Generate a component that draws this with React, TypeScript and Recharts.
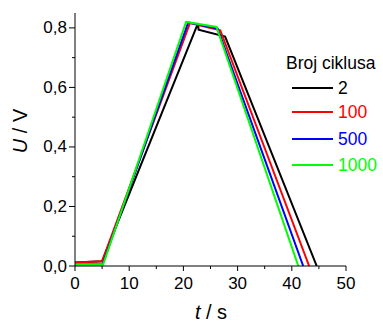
import React from "react";
import { LineChart, Line, XAxis, YAxis } from "recharts";

const t2 = [0, 5, 22.7, 22.8, 27.7, 44.6];
const u2 = [0.012, 0.016, 0.816, 0.794, 0.771, 0];
const t100 = [0, 5, 21.2, 26.8, 43.2];
const u100 = [0.012, 0.016, 0.816, 0.792, 0];
const t500 = [0, 5.1, 20.9, 26.3, 42.1];
const u500 = [0.006, 0.006, 0.818, 0.798, 0];
const t1000 = [0, 5.2, 20.5, 26.1, 41.2];
const u1000 = [0.006, 0.006, 0.82, 0.803, 0];

const xTicks = [0, 5, 10, 15, 20, 25, 30, 35, 40, 45, 50];
const yTicks = [0, 0.1, 0.2, 0.3, 0.4, 0.5, 0.6, 0.7, 0.8];

const seriesNames = ["2", "100", "500", "1000"];
const seriesColors = ["#000000", "#ff0000", "#0000ff", "#00ff00"];
const legendTitle = "Broj ciklusa";

const zip = (t: number[], u: number[]) => t.map((x, i) => ({ x, y: u[i] }));
const series = [zip(t2, u2), zip(t100, u100), zip(t500, u500), zip(t1000, u1000)];

const FONT = "'Liberation Sans', Arial, sans-serif";

const XTick = (props: any) => {
  const { x, y, payload } = props;
  const v = payload.value;
  const major = Math.round(v) % 10 === 0;
  return (
    <g>
      <line x1={x} x2={x} y1={y} y2={y + (major ? 5 : 3)} stroke="#000" strokeWidth={1} />
      {major && (
        <text x={x} y={y + 17} textAnchor="middle" dominantBaseline="central" fontSize={17} fontFamily={FONT} fill="#000">
          {String(v)}
        </text>
      )}
    </g>
  );
};

const YTick = (props: any) => {
  const { x, y, payload } = props;
  const v = payload.value;
  const major = Math.round(v * 10) % 2 === 0;
  return (
    <g>
      <line x1={x} x2={x - (major ? 6 : 3)} y1={y} y2={y} stroke="#000" strokeWidth={1} />
      {major && (
        <text x={x - 8} y={y} textAnchor="end" dominantBaseline="central" fontSize={17} fontFamily={FONT} fill="#000">
          {v.toFixed(1).replace(".", ",")}
        </text>
      )}
    </g>
  );
};

const legendYs = [87.5, 112, 138.5, 165];

export default function App() {
  return (
    <div style={{ position: "absolute", left: 0, top: 0, width: 383, height: 322, background: "#fff" }}>
      <LineChart width={383} height={322} margin={{ top: 13, right: 37, bottom: 0, left: 0 }}>
        <XAxis
          dataKey="x"
          type="number"
          domain={[0, 50]}
          ticks={xTicks}
          interval={0}
          tickSize={0}
          tickMargin={0}
          tickLine={false}
          tick={<XTick />}
          axisLine={{ stroke: "#000", strokeWidth: 1 }}
          height={56}
          allowDataOverflow
          label={{
            content: (p: any) => (
              <text x={211} y={312} textAnchor="middle" dominantBaseline="central" fontSize={20} fontFamily={FONT} fill="#000">
                <tspan fontStyle="italic">t</tspan>
                <tspan> / s</tspan>
              </text>
            ),
          }}
        />
        <YAxis
          type="number"
          domain={[0, 0.85]}
          ticks={yTicks}
          interval={0}
          tickSize={0}
          tickMargin={0}
          tickLine={false}
          tick={<YTick />}
          axisLine={{ stroke: "#000", strokeWidth: 1 }}
          width={75}
          allowDataOverflow
          label={{
            content: (p: any) => (
              <text x={20} y={131} textAnchor="middle" dominantBaseline="central" fontSize={20} fontFamily={FONT} fill="#000" transform="rotate(-90 20 131)">
                <tspan fontStyle="italic">U</tspan>
                <tspan> / V</tspan>
              </text>
            ),
          }}
        />
        {series.map((d, i) => (
          <Line
            key={seriesNames[i]}
            data={d}
            dataKey="y"
            type="linear"
            stroke={seriesColors[i]}
            strokeWidth={2}
            dot={false}
            activeDot={false}
            isAnimationActive={false}
          />
        ))}
      </LineChart>
      <div style={{ position: "absolute", left: 286, top: 52, fontFamily: FONT, fontSize: 17.5, lineHeight: "22px", color: "#000", whiteSpace: "nowrap" }}>
        {legendTitle}
      </div>
      {seriesNames.map((n, i) => (
        <div key={n} style={{ position: "absolute", left: 0, top: legendYs[i] - 11, height: 22, width: 383 }}>
          <div style={{ position: "absolute", left: 292, top: 10, width: 41, height: 2, background: seriesColors[i] }} />
          <div style={{ position: "absolute", left: 338, top: 0, fontFamily: FONT, fontSize: 17.5, lineHeight: "22px", color: seriesColors[i] }}>
            {n}
          </div>
        </div>
      ))}
    </div>
  );
}
